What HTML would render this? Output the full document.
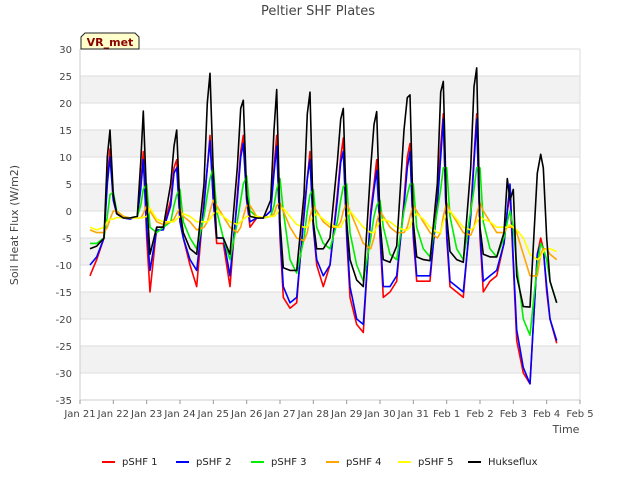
<!DOCTYPE html>
<html><head><meta charset="utf-8"><style>
body{margin:0;background:#fff;font-family:"Liberation Sans",sans-serif}
svg text{font-family:"DejaVu Sans","Liberation Sans",sans-serif}
</style></head><body>
<svg id="chart" width="640" height="480" viewBox="0 0 640 480">
<text x="318" y="15" text-anchor="middle" font-size="13" fill="#444">Peltier SHF Plates</text>
<g id="grid"></g>
<g id="axes"></g>
<g id="series"></g>
<g>
<path d="M81,49 L81,37 L85,33 L135,33 L139,37 L139,49 Z" fill="#ffffcc" stroke="#222" stroke-width="1"/>
<text x="110" y="46" text-anchor="middle" font-size="11" font-weight="bold" fill="#8b0000">VR_met</text>
</g>
<text x="0" y="0" transform="translate(18,225) rotate(-90)" text-anchor="middle" font-size="11" fill="#444">Soil Heat Flux (W/m2)</text>
<text x="566" y="433" text-anchor="middle" font-size="11" fill="#444">Time</text>
<g id="legend"></g>
</svg>
<script>
const xTickLabels=["Jan 21","Jan 22","Jan 23","Jan 24","Jan 25","Jan 26","Jan 27","Jan 28","Jan 29","Jan 30","Jan 31","Feb 1","Feb 2","Feb 3","Feb 4","Feb 5"];
const yTicks=[30,25,20,15,10,5,0,-5,-10,-15,-20,-25,-30,-35];
const seriesNames=["pSHF 1","pSHF 2","pSHF 3","pSHF 4","pSHF 5","Hukseflux"];
const seriesColors=["#ff0000","#0000ff","#00ee00","#ffa500","#ffff00","#000000"];
const times=[0.3,0.5,0.72,0.82,0.9,
1.0,1.1,1.3,1.5,1.72,1.82,1.9, 2.0,2.1,2.3,2.5,2.72,2.82,2.9, 3.0,3.1,3.3,3.5,3.72,3.82,3.9,
4.0,4.1,4.3,4.5,4.72,4.82,4.9, 5.0,5.1,5.3,5.5,5.72,5.82,5.9, 6.0,6.1,6.3,6.5,6.72,6.82,6.9,
7.0,7.1,7.3,7.5,7.72,7.82,7.9, 8.0,8.1,8.3,8.5,8.72,8.82,8.9, 9.0,9.1,9.3,9.5,9.72,9.82,9.9,
10.0,10.1,10.3,10.5,10.72,10.82,10.9, 11.0,11.1,11.3,11.5,11.72,11.82,11.9, 12.0,12.1,12.3,12.5,12.72,12.82,12.9,
13.0,13.1,13.3,13.5,13.72,13.82,13.9, 14.0,14.1,14.3];
const pshf1=[-12,-9,-5,6,11.5, 2,-0.5,-1.3,-1.3,-1,5,11, -5,-15,-3,-3,2,8,9.5, -2,-5,-10,-14,2,8,14,
2,-6,-6,-14,3,11,14, 2,-3,-1.3,-1.3,0,8,14, -5,-16,-18,-17,0,6,11, -3,-10,-14,-10,3,10,13.5,
-5,-16,-21,-22.5,0,5,9.5, -5,-16,-15,-13,2,10,12.5, -5,-13,-13,-13,2,12,18, -5,-14,-15,-16,0,10,18,
-5,-15,-13,-12,-6,0,3, -10,-24,-30,-32,-8,-5,-7, -15,-20,-24.5];
const pshf2=[-10,-8.5,-5,5,10, 2,-0.5,-1.3,-1.5,-1,4,9.5, -3,-11,-3.5,-3.5,1,7,8, -2,-5,-9,-11,1,8,13,
2,-5,-5,-12,2,10,12.5, 2,-2,-1.3,-1.3,0,7,12, -4,-14,-17,-16,-1,6,9.5, -3,-9,-12,-10,2,9,11,
-4,-14,-20,-21,-1,4,7.5, -4,-14,-14,-12,1,8,11, -4,-12,-12,-12,1,10,17, -4,-13,-14,-15,-1,9,17,
-4,-13,-12,-11,-6,0,5, -9,-22,-29,-32,-8,-6,-7, -14,-20,-24];
const pshf3=[-6,-6,-5,-1,3, 3.5,0,-1,-1.3,-1,1,4, 5,-3,-4,-3,-2,1,3, 4,-2,-5,-7,-1,3,6,
8,0,-5,-9,-2,2,5, 6.5,0,-1,-1.3,-1,1,4, 6,0,-9,-11.5,-5,0,3, 4,-3,-6,-7,-2,2,4.5,
5,-4,-10,-13,-5,-1,1, 2,-3,-8,-9,0,3,5, 5,-3,-7,-8.5,0,4,8, 8,-1,-7,-9,0,4,8,
8,-2,-7,-8.5,-5,-2,0, -3,-10,-20,-23,-10,-6,-7, -9,-13,-17];
const pshf4=[-3.5,-4,-4,-3,-1.5, 0,0,-1,-1.3,-1.3,-1.3,-0.5, 1,0,-2,-2.5,-2,-1.5,-0.5, 0.5,-1,-2,-3.5,-3,-2,0,
2,1,-1,-3,-4,-3,-1, 1,1,-1,-1.2,-1,-0.5,1, 1.5,0,-3,-5,-5.5,-4,-1, 1,0,-2,-3,-3,-2,0,
1.5,0,-3,-6,-7,-5,-2, 0,-1,-3,-4,-4,-3,-1, 1,0,-2,-4,-5,-4,-1, 1.5,0,-2,-4,-4.5,-3,-0.5,
1.5,0,-2,-4,-4,-3,-3, -3,-4,-8,-12,-12,-8,-7, -7,-8,-9];
const pshf5=[-3,-3.5,-3,-2,-1.5, -1.5,-1.2,-1.3,-1.3,-1.3,-1.3,-1.2, -1,0.5,-1.5,-2,-2,-2,-1.5, -1,-0.5,-1,-2,-2,-2,-1.5,
-0.5,0,-1,-2,-2.5,-2,-1.5, -1,-1,-1,-1.2,-1,-1,-0.5, 0.5,0.5,-1,-2.5,-3,-3,-2, -1,-0.5,-1.5,-2.5,-3,-3,-2,
-1,0,-1.5,-3,-4,-4,-3, -2,-1.5,-2,-3,-3.5,-3.5,-3, -1,-0.5,-1.5,-3,-4,-4,-2, -0.5,0,-1.5,-3,-3.5,-3,-2,
-1,-1.5,-2,-3,-3,-3,-2.5, -3,-3.5,-5,-8,-9,-8.5,-7.5, -7,-7,-7.5];
const hukseflux=[-7,-6.5,-5,10,15, 3,-0.5,-1.3,-1.3,-1,9,18.5, 2,-8,-3,-3,5,12,15, 0,-4,-7,-8,5,20,25.5,
7,-5,-5,-8,8,19,20.5, 3,-1,-1.3,-1.3,2,15,22.5, -2,-10.5,-11,-11,3,18,22, -2,-7,-7,-5,9,17,19,
-2,-9,-12.8,-14,8,16,18.4, -2,-9,-9.5,-6.5,15,21,21.5, -2,-8.5,-9,-9.2,5,22,24, -1,-7.5,-9,-9.5,8,23,26.5,
-3,-8,-8.5,-8.5,-4,6,2, 4,-12,-17.7,-17.8,7,10.5,8, -5,-13,-17];
const seriesData=[pshf1,pshf2,pshf3,pshf4,pshf5,hukseflux];

const NS="http://www.w3.org/2000/svg";
const X0=80,X1=580,Y0=49,Y1=400;
const xs=d=>X0+(X1-X0)*d/15;
const ys=v=>Y0+(Y1-Y0)*(30-v)/65;
function mk(tag,attrs,parent){const e=document.createElementNS(NS,tag);for(const k in attrs)e.setAttribute(k,attrs[k]);parent.appendChild(e);return e;}
const grid=document.getElementById('grid'),axes=document.getElementById('axes'),ser=document.getElementById('series'),leg=document.getElementById('legend');
for(let i=0;i<yTicks.length-1;i++){
  if(i%2===1){const r=mk('rect',{x:X0,y:ys(yTicks[i]),width:X1-X0,height:ys(yTicks[i+1])-ys(yTicks[i]),fill:'#f2f2f2'},grid);
  
  }
}
yTicks.forEach(v=>{
  const l=mk('line',{x1:X0,x2:X1,y1:ys(v),y2:ys(v),stroke:'#dddddd','stroke-width':1},grid);
  
  
  const t=mk('text',{x:X0-8,y:ys(v)+4,'text-anchor':'end','font-size':10,fill:'#444'},axes);
  t.textContent=v;
  
  
});
mk('line',{x1:X0,x2:X0,y1:Y0,y2:Y1,stroke:'#ccc'},axes);
mk('line',{x1:X1,x2:X1,y1:Y0,y2:Y1,stroke:'#ddd'},axes);
mk('line',{x1:X0,x2:X1,y1:Y1,y2:Y1,stroke:'#ccc'},axes);
xTickLabels.forEach((s,i)=>{
  mk('line',{x1:xs(i),x2:xs(i),y1:Y1,y2:Y1+4,stroke:'#999'},axes);
  const t=mk('text',{x:xs(i),y:Y1+17,'text-anchor':'middle','font-size':10,fill:'#444'},axes);
  t.textContent=s;
  
  
});
seriesData.forEach((arr,si)=>{
  const pts=arr.map((v,i)=>xs(times[i]).toFixed(1)+','+ys(v).toFixed(1)).join(' ');
  const p=mk('polyline',{points:pts,fill:'none',stroke:seriesColors[si],'stroke-width':1.6,'stroke-linejoin':'round'},ser);
  
  
});
const legX=[102,176,251,326,398,468];
seriesNames.forEach((n,i)=>{
  const g=mk('g',{},leg);
  
  
  mk('line',{x1:legX[i],x2:legX[i]+13,y1:462,y2:462,stroke:seriesColors[i],'stroke-width':2},g);
  const t=mk('text',{x:legX[i]+20,y:465,'font-size':10,fill:'#222'},g);
  t.textContent=n;
});
</script>
</body></html>
